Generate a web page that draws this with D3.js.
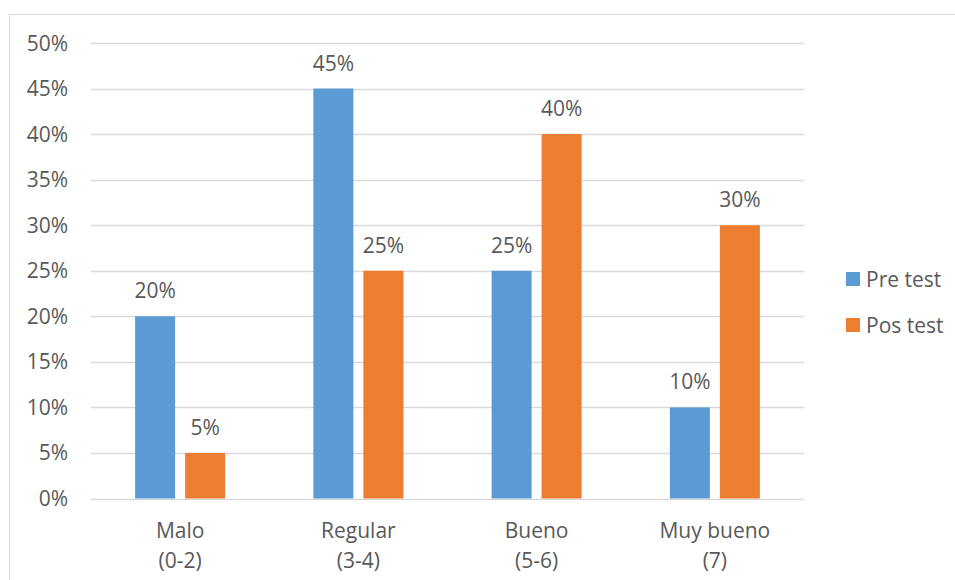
<!DOCTYPE html>
<html><head><meta charset="utf-8">
<script src="https://cdn.jsdelivr.net/npm/d3@7"></script>
<style>body{margin:0;background:#fff;}svg{display:block;}</style>
</head><body>
<svg id="c" width="955" height="580"></svg>
<script>
const categories = [["Malo","(0-2)"],["Regular","(3-4)"],["Bueno","(5-6)"],["Muy bueno","(7)"]];
const seriesNames = ["Pre test","Pos test"];
const preTest = [0.20,0.45,0.25,0.10];
const posTest = [0.05,0.25,0.40,0.30];
const yTicks = [0,0.05,0.10,0.15,0.20,0.25,0.30,0.35,0.40,0.45,0.50];
const colors = ["#5B9BD5","#ED7D31"];

const svg = d3.select("#c");
const font = "'Open Sans', sans-serif";
const fs = 21;
const textColor = "#595959";
svg.append("rect").attr("x",9.5).attr("y",14.5).attr("width",1000).attr("height",1000)
  .attr("fill","none").attr("stroke","#D9D9D9").attr("stroke-width",1);

const pLeft=91, pRight=804, pTop=43, pBottom=498.5;
const x0 = d3.scaleBand().domain(d3.range(categories.length)).range([pLeft,pRight]).padding(0);
const groupW = 90;
const x1 = d3.scaleBand().domain(d3.range(seriesNames.length)).range([0,groupW]).paddingInner(0.2).paddingOuter(0);
const y = d3.scaleLinear().domain([0,0.5]).range([pBottom,pTop]);
const fmt = d3.format(".0%");

svg.append("g").selectAll("line").data(yTicks).join("line")
  .attr("x1",pLeft).attr("x2",pRight)
  .attr("y1",d=>Math.round(y(d))+0.5).attr("y2",d=>Math.round(y(d))+0.5)
  .attr("stroke","#D9D9D9").attr("stroke-width",1.3);

svg.append("g").selectAll("text").data(yTicks).join("text")
  .attr("x",68).attr("y",d=>y(d)+7.5).attr("text-anchor","end")
  .attr("font-family",font).attr("font-size",fs).attr("fill",textColor)
  .text(d=>fmt(d));

const seriesData = [preTest, posTest];
seriesData.forEach((vals,si)=>{
  const g = svg.append("g");
  g.selectAll("rect").data(vals).join("rect")
    .attr("x",(d,i)=>x0(i)+(x0.bandwidth()-groupW)/2+x1(si))
    .attr("width",x1.bandwidth())
    .attr("y",d=>y(d)).attr("height",d=>y(0)-y(d))
    .attr("fill",colors[si]);
  g.selectAll("text").data(vals).join("text")
    .attr("x",(d,i)=>x0(i)+(x0.bandwidth()-groupW)/2+x1(si)+x1.bandwidth()/2)
    .attr("y",d=>y(d)-18).attr("text-anchor","middle")
    .attr("font-family",font).attr("font-size",fs).attr("fill",textColor)
    .text(d=>fmt(d));
});

const cg = svg.append("g");
categories.forEach((c,i)=>{
  c.forEach((line,li)=>{
    cg.append("text").attr("x",x0(i)+x0.bandwidth()/2).attr("y",537.5+li*30)
      .attr("text-anchor","middle").attr("font-family",font).attr("font-size",fs)
      .attr("fill",textColor).text(line);
  });
});

const lg = svg.append("g");
seriesNames.forEach((s,i)=>{
  lg.append("rect").attr("x",846).attr("y",272+i*46).attr("width",14).attr("height",14).attr("fill",colors[i]);
  lg.append("text").attr("x",866).attr("y",287+i*46).attr("font-family",font).attr("font-size",fs)
    .attr("fill",textColor).text(s);
});
</script>
</body></html>
